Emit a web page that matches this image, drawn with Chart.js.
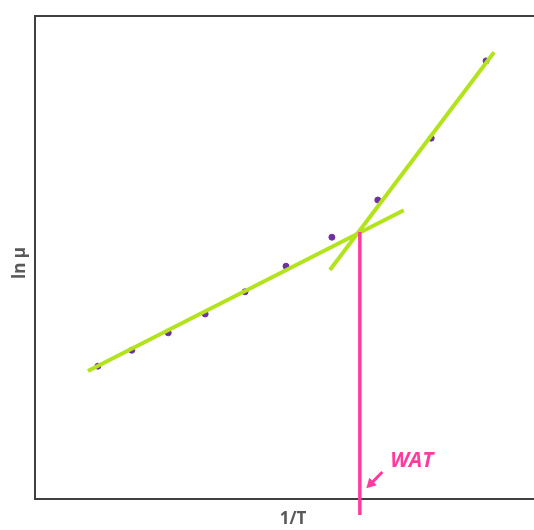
<!DOCTYPE html>
<html>
<head>
<meta charset="utf-8">
<script src="https://cdn.jsdelivr.net/npm/chart.js@4.4.0/dist/chart.umd.min.js"></script>
<style>
  html, body { margin: 0; padding: 0; background: #fff; }
  #wrap { width: 534px; height: 530px; position: relative; }
</style>
</head>
<body>
<div id="wrap"><canvas id="line-chart"></canvas></div>
<script>
// measured points (1/T, ln mu) - arbitrary units, no ticks on the original
var invT   = [1.26, 1.94, 2.67, 3.41, 4.21, 5.03, 5.95, 6.87, 7.94, 9.04];
var lnMu   = [2.75, 3.08, 3.44, 3.83, 4.29, 4.82, 5.42, 6.19, 7.47, 9.07];

// the two fitted lines
var fitLowX  = [1.06, 7.39];
var fitLowY  = [2.65, 5.98];
var fitHighX = [5.91, 9.20];
var fitHighY = [4.74, 9.25];

// WAT marker
var watX = 6.51;
var watY = [5.53, -0.33];
var watLabel = 'WAT';
var xTitle = '1/T';
var yTitle = 'ln μ';

var green = '#b3e31c';
var pink = '#ff3c9e';
var grey = '#595959';

function pts(xs, ys) {
  var out = [];
  for (var i = 0; i < xs.length; i++) out.push({x: xs[i], y: ys[i]});
  return out;
}

var frame = {
  id: 'frame',
  beforeDatasetsDraw: function (chart) {
    var ctx = chart.ctx, a = chart.chartArea;
    ctx.save();
    ctx.strokeStyle = '#404040';
    ctx.lineWidth = 2;
    ctx.beginPath();
    ctx.moveTo(chart.width, a.top);
    ctx.lineTo(a.left, a.top);
    ctx.lineTo(a.left, a.bottom);
    ctx.lineTo(chart.width, a.bottom);
    ctx.stroke();
    ctx.restore();
  },
  afterDraw: function (chart) {
    var ctx = chart.ctx, a = chart.chartArea;
    var xs = chart.scales.x, ys = chart.scales.y;
    ctx.save();
    // axis titles
    ctx.fillStyle = grey;
    ctx.font = 'bold 17px "Open Sans", sans-serif';
    ctx.textAlign = 'center';
    ctx.textBaseline = 'middle';
    ctx.fillText(xTitle, 293, 519);
    ctx.translate(20, 263);
    ctx.rotate(-Math.PI / 2);
    ctx.fillText(yTitle, 0, 0);
    ctx.restore();

    // WAT label + arrow
    ctx.save();
    ctx.fillStyle = pink;
    ctx.strokeStyle = pink;
    ctx.font = 'italic bold 21px "Open Sans", sans-serif';
    ctx.textAlign = 'left';
    ctx.textBaseline = 'middle';
    ctx.fillText(watLabel, xs.getPixelForValue(7.12), ys.getPixelForValue(0.78));
    var x0 = xs.getPixelForValue(6.96), y0 = ys.getPixelForValue(0.56);
    var x1 = xs.getPixelForValue(6.64), y1 = ys.getPixelForValue(0.22);
    ctx.lineWidth = 3;
    ctx.beginPath();
    ctx.moveTo(x0, y0);
    ctx.lineTo(x1 + 4, y1 - 4);
    ctx.stroke();
    var ang = Math.atan2(y1 - y0, x1 - x0);
    ctx.beginPath();
    ctx.moveTo(x1, y1);
    ctx.lineTo(x1 - 11 * Math.cos(ang - 0.5), y1 - 11 * Math.sin(ang - 0.5));
    ctx.lineTo(x1 - 11 * Math.cos(ang + 0.5), y1 - 11 * Math.sin(ang + 0.5));
    ctx.closePath();
    ctx.fill();
    ctx.restore();
  }
};

new Chart(document.getElementById('line-chart'), {
  type: 'scatter',
  data: {
    datasets: [
      {
        data: pts(invT, lnMu),
        backgroundColor: '#7030a0',
        borderColor: '#7030a0',
        pointRadius: 3,
        order: 3
      },
      {
        data: pts(fitLowX, fitLowY),
        showLine: true,
        borderColor: green,
        borderWidth: 4,
        pointRadius: 0,
        order: 2
      },
      {
        data: pts(fitHighX, fitHighY),
        showLine: true,
        borderColor: green,
        borderWidth: 4,
        pointRadius: 0,
        order: 2
      },
      {
        data: [{x: watX, y: watY[0]}, {x: watX, y: watY[1]}],
        showLine: true,
        borderColor: pink,
        borderWidth: 3.5,
        pointRadius: 0,
        clip: false,
        order: 1
      }
    ]
  },
  options: {
    responsive: true,
    maintainAspectRatio: false,
    animation: false,
    layout: { padding: { left: 35, top: 16, right: 0, bottom: 31 } },
    plugins: {
      legend: { display: false },
      tooltip: { enabled: false }
    },
    scales: {
      x: { type: 'linear', min: 0, max: 9.9, display: false },
      y: { type: 'linear', min: 0, max: 10, display: false }
    }
  },
  plugins: [frame]
});
</script>
</body>
</html>
